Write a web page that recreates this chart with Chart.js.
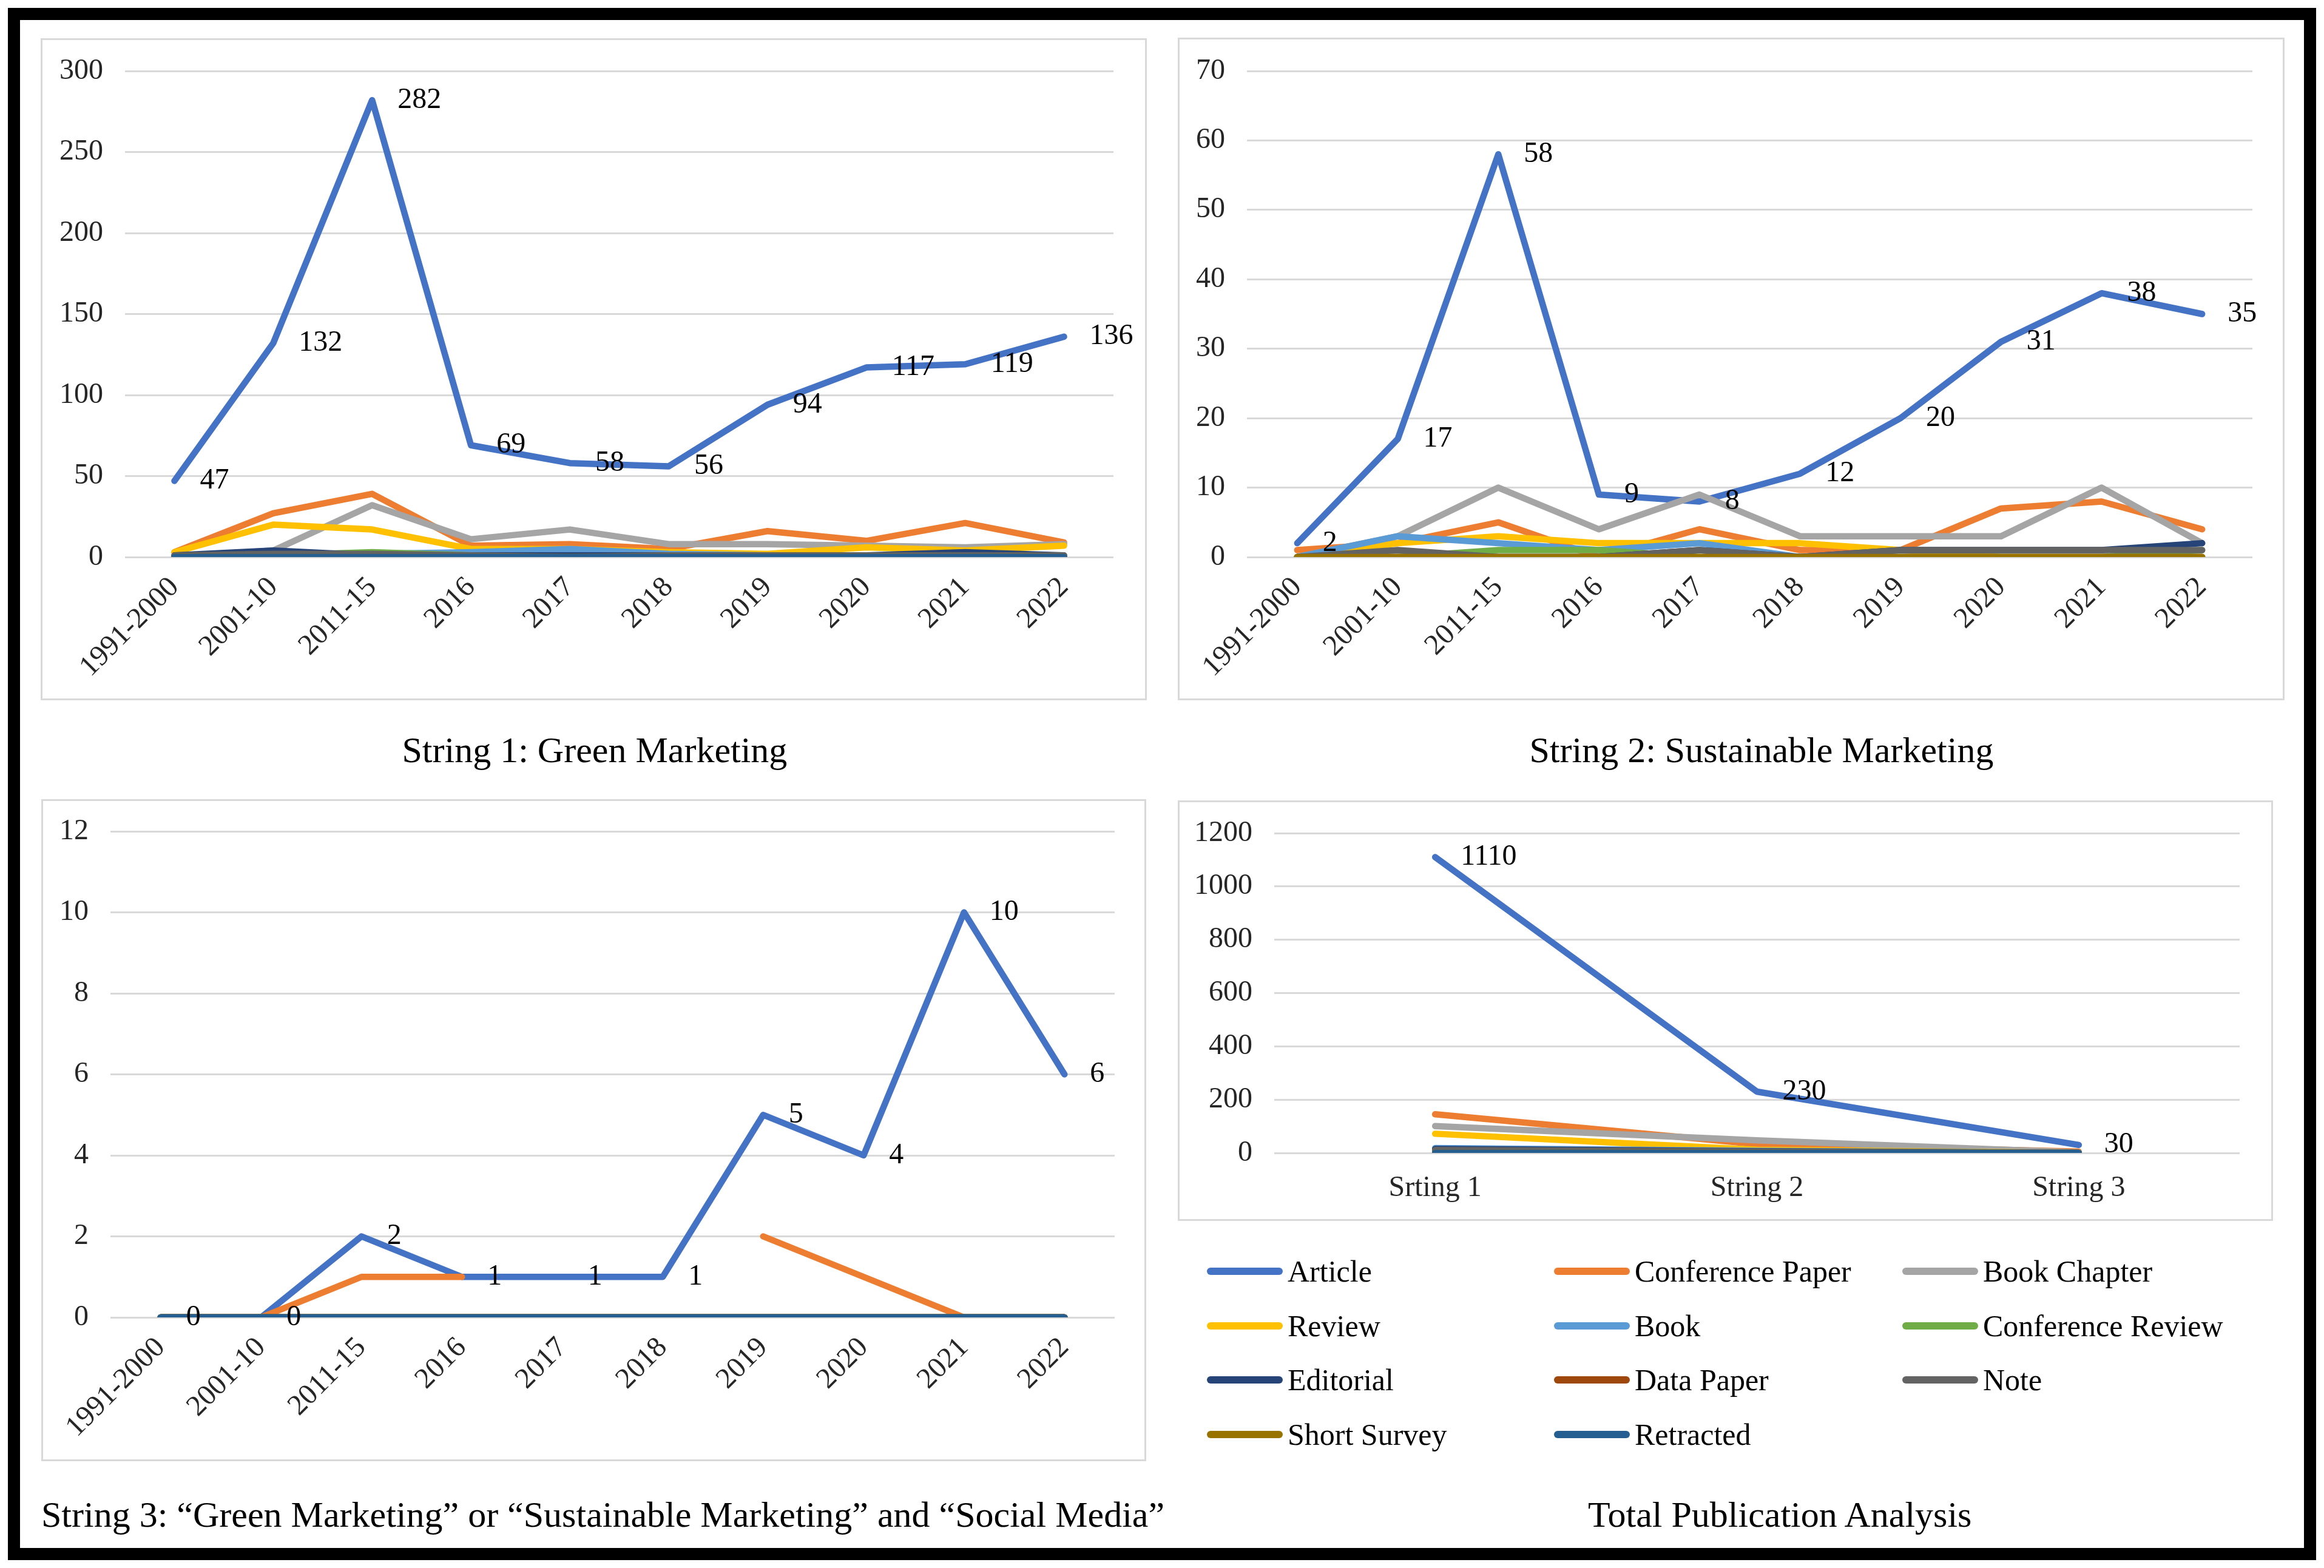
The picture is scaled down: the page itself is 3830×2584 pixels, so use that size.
<!DOCTYPE html>
<html>
<head>
<meta charset="utf-8">
<script src="https://cdn.jsdelivr.net/npm/chart.js@4.4.1/dist/chart.umd.min.js"></script>
<style>
  html, body { margin: 0; padding: 0; background: #fff; }
  body { width: 3830px; height: 2584px; position: relative; overflow: hidden; font-family: 'Liberation Serif', 'Times New Roman', serif; }
  #frame { position: absolute; left: 13px; top: 13px; width: 3804px; height: 2558px; border: 20px solid #000; box-sizing: border-box; }
  .box { position: absolute; outline: 3px solid #d9d9d9; outline-offset: -3px; }
  .box canvas { position: absolute; left: 0; top: 0; }
  .caption { position: absolute; font-size: 60px; line-height: 60px; white-space: nowrap; color: #000; }
  .item { position: absolute; display: flex; align-items: center; height: 60px; font-size: 50px; line-height: 60px; white-space: nowrap; color: #000; }
  .swatch { width: 125px; height: 12px; border-radius: 6px; margin-right: 8px; }
</style>
</head>
<body>
<div id="frame"></div>

<div class="box" style="left:67px;top:63px;width:1823px;height:1091px"><canvas id="c1" width="1823" height="1091"></canvas></div>
<div class="box" style="left:1941px;top:62px;width:1824px;height:1092px"><canvas id="c2" width="1824" height="1092"></canvas></div>
<div class="box" style="left:68px;top:1317px;width:1821px;height:1091px"><canvas id="c3" width="1821" height="1091"></canvas></div>
<div class="box" style="left:1941px;top:1319px;width:1805px;height:693px"><canvas id="c4" width="1805" height="693"></canvas></div>

<div class="caption" id="cap1" style="top:1206px">String 1: Green Marketing</div>
<div class="caption" id="cap2" style="top:1206px">String 2: Sustainable Marketing</div>
<div class="caption" style="left:68px;top:2466px">String 3: “Green Marketing” or “Sustainable Marketing” and “Social Media”</div>
<div class="caption" id="cap4" style="top:2466px">Total Publication Analysis</div>

<div id="legend"></div>

<script>
// categories
const yearCats = ['1991-2000', '2001-10', '2011-15', '2016', '2017', '2018', '2019', '2020', '2021', '2022'];
const stringCats = ['Srting 1', 'String 2', 'String 3'];

// document types (series), same order in every chart
const docTypes = ['Article', 'Conference Paper', 'Book Chapter', 'Review', 'Book', 'Conference Review',
  'Editorial', 'Data Paper', 'Note', 'Short Survey', 'Retracted'];
const typeColors = ['#4472C4', '#ED7D31', '#A5A5A5', '#FFC000', '#5B9BD5', '#70AD47',
  '#264478', '#9E480E', '#636363', '#997300', '#255E91'];

// String 1: Green Marketing (one row per document type)
const greenMarketing = [
  [47, 132, 282, 69, 58, 56, 94, 117, 119, 136],
  [3, 27, 39, 7, 8, 5, 16, 10, 21, 9],
  [0, 4, 32, 11, 17, 8, 8, 7, 6, 8],
  [3, 20, 17, 5, 5, 3, 2, 6, 4, 7],
  [0, 1, 2, 3, 5, 2, 1, 1, 0, 0],
  [0, 1, 3, 1, 1, 1, 0, 0, 0, 0],
  [1, 4, 1, 1, 1, 1, 1, 1, 3, 1],
  [0, 1, 0, 0, 0, 0, 0, 0, 0, 0],
  [1, 2, 2, 1, 0, 1, 1, 1, 1, 1],
  [0, 0, 0, 0, 0, 0, 0, 0, 0, 0],
  [0, 0, 0, 0, 0, 0, 0, 0, 0, 0]
];

// String 2: Sustainable Marketing
const sustainableMarketing = [
  [2, 17, 58, 9, 8, 12, 20, 31, 38, 35],
  [1, 2, 5, 0, 4, 1, 1, 7, 8, 4],
  [0, 3, 10, 4, 9, 3, 3, 3, 10, 2],
  [0, 2, 3, 2, 2, 2, 1, 0, 0, 0],
  [0, 3, 2, 1, 2, 0, 0, 0, 0, 0],
  [0, 0, 1, 1, 0, 0, 0, 0, 0, 1],
  [0, 0, 0, 0, 1, 0, 1, 1, 1, 2],
  [0, 0, 0, 0, 0, 0, 0, 0, 0, 0],
  [0, 1, 0, 0, 1, 0, 1, 1, 1, 1],
  [0, 0, 0, 0, 0, 0, 0, 0, 0, 0],
  [null, null, null, null, null, null, null, null, null, null]
];

// String 3: social media
const socialMedia = [
  [0, 0, 2, 1, 1, 1, 5, 4, 10, 6],
  [null, 0, 1, 1, null, null, 2, 1, 0, null],
  [0, 0, 0, 0, 0, 0, 0, 0, 0, 0],
  [0, 0, 0, 0, 0, 0, 0, 0, 0, 0],
  [0, 0, 0, 0, 0, 0, 0, 0, 0, 0],
  [0, 0, 0, 0, 0, 0, 0, 0, 0, 0],
  [0, 0, 0, 0, 0, 0, 0, 0, 0, 0],
  [0, 0, 0, 0, 0, 0, 0, 0, 0, 0],
  [0, 0, 0, 0, 0, 0, 0, 0, 0, 0],
  [0, 0, 0, 0, 0, 0, 0, 0, 0, 0],
  [0, 0, 0, 0, 0, 0, 0, 0, 0, 0]
];

// Total publications per string
const totals = [
  [1110, 230, 30],
  [145, 33, 5],
  [101, 47, 2],
  [72, 12, 0],
  [18, 8, 0],
  [7, 3, 0],
  [15, 6, 0],
  [1, 0, 0],
  [11, 5, 0],
  [0, 0, 0],
  [0, 0, 0]
];

const FONT = "'Liberation Serif', 'Times New Roman', serif";

// value labels to the right of each Article point
const articleLabels = {
  id: 'articleLabels',
  afterDatasetsDraw(chart) {
    const ctx = chart.ctx;
    const ds = chart.data.datasets[0];
    const meta = chart.getDatasetMeta(0);
    ctx.save();
    ctx.font = '48px ' + FONT;
    ctx.fillStyle = '#000';
    ctx.textAlign = 'left';
    ctx.textBaseline = 'middle';
    meta.data.forEach((pt, i) => {
      if (ds.data[i] == null) return;
      ctx.fillText(String(ds.data[i]), pt.x + 42, pt.y);
    });
    ctx.restore();
  }
};

function makeChart(id, cats, rows, yMax, yStep, g) {
  new Chart(document.getElementById(id), {
    type: 'line',
    data: {
      labels: cats,
      datasets: rows.map((r, i) => ({
        label: docTypes[i],
        data: r,
        borderColor: typeColors[i],
        backgroundColor: typeColors[i],
        borderWidth: 10.5,
        pointRadius: 0,
        tension: 0,
        borderJoinStyle: 'round',
        borderCapStyle: 'round',
        order: -i
      }))
    },
    options: {
      responsive: false,
      animation: false,
      devicePixelRatio: 1,
      layout: { padding: { left: 0, top: g.top, right: g.right, bottom: 0 } },
      plugins: { legend: { display: false }, tooltip: { enabled: false } },
      scales: {
        x: {
          offset: true,
          grid: { display: false },
          border: { display: false },
          ticks: {
            autoSkip: false,
            minRotation: g.rot, maxRotation: g.rot,
            padding: g.xPad,
            color: '#262626',
            font: { family: FONT, size: 48 }
          },
          afterFit: (s) => { s.height = g.xH; }
        },
        y: {
          min: 0, max: yMax,
          grid: { color: '#d9d9d9', lineWidth: 3, drawTicks: false },
          border: { display: false },
          ticks: {
            stepSize: yStep,
            padding: 36,
            color: '#262626',
            font: { family: FONT, size: 48 },
            callback: (v) => String(v)
          },
          afterFit: (s) => {
            s.width = g.yW;
            s.paddingTop = 0;
            s.paddingBottom = 0;
          }
        }
      }
    },
    plugins: [articleLabels]
  });
}

makeChart('c1', yearCats, greenMarketing, 300, 50, { yW: 139, top: 54, right: 55, xH: 236, rot: 45, xPad: 14 });
makeChart('c2', yearCats, sustainableMarketing, 70, 10, { yW: 114, top: 55, right: 53, xH: 236, rot: 45, xPad: 14 });
makeChart('c3', yearCats, socialMedia, 12, 2, { yW: 114, top: 53, right: 52, xH: 237, rot: 45, xPad: 14 });
makeChart('c4', stringCats, totals, 1200, 200, { yW: 159, top: 54, right: 55, xH: 112, rot: 0, xPad: 22 });

// centred captions
function centre(id, cx) {
  const el = document.getElementById(id);
  el.style.left = (cx - el.offsetWidth / 2) + 'px';
}
centre('cap1', 980);
centre('cap2', 2903);
centre('cap4', 2933);

// shared legend, three columns
const legend = document.getElementById('legend');
const colX = [1989, 2561, 3135];
docTypes.forEach((name, i) => {
  const item = document.createElement('div');
  item.className = 'item';
  item.style.left = colX[i % 3] + 'px';
  item.style.top = (2065 + Math.floor(i / 3) * 89.7) + 'px';
  const sw = document.createElement('div');
  sw.className = 'swatch';
  sw.style.background = typeColors[i];
  item.appendChild(sw);
  item.appendChild(document.createTextNode(name));
  legend.appendChild(item);
});
</script>
</body>
</html>
